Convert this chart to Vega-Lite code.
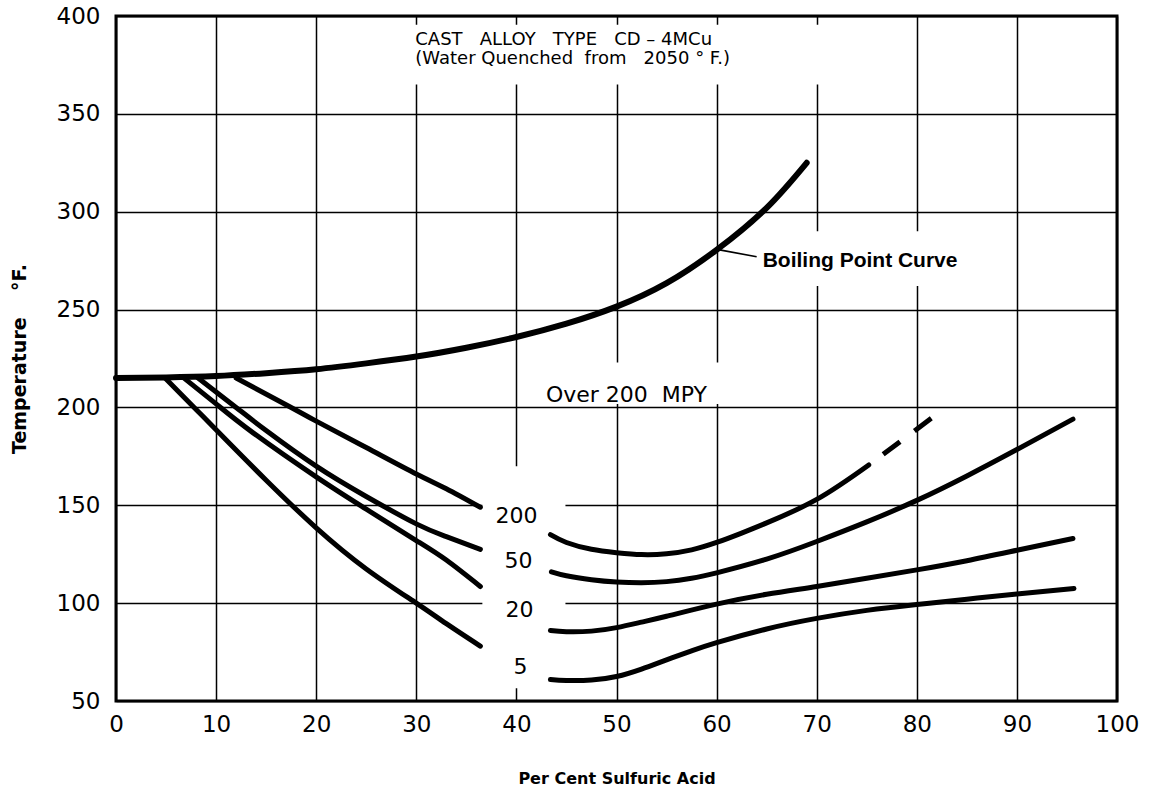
{
  "$schema": "https://vega.github.io/schema/vega-lite/v6.json",
  "width": 1001,
  "height": 685,
  "autosize": {"type": "none"},
  "padding": {"left": 116, "top": 16, "right": 33, "bottom": 94},
  "background": "white",
  "config": {
    "view": {"stroke": "black", "strokeWidth": 3},
    "axis": {
      "grid": true,
      "gridColor": "black",
      "gridWidth": 1.5,
      "gridOpacity": 1,
      "domain": false,
      "ticks": false,
      "labelFont": "DejaVu Sans",
      "labelFontSize": 23,
      "labelColor": "black",
      "labelFlush": false,
      "labelOverlap": false,
      "labelBound": false,
      "titleFont": "DejaVu Sans",
      "titleFontWeight": "bold",
      "titleColor": "black"
    }
  },
  "datasets": {
    "curves": [
      {"series": "boiling", "pct": 0, "temp": 215},
      {"series": "boiling", "pct": 5, "temp": 215.3},
      {"series": "boiling", "pct": 10, "temp": 216},
      {"series": "boiling", "pct": 15, "temp": 217.5},
      {"series": "boiling", "pct": 20, "temp": 219.5},
      {"series": "boiling", "pct": 25, "temp": 222.5},
      {"series": "boiling", "pct": 30, "temp": 226},
      {"series": "boiling", "pct": 35, "temp": 230.5},
      {"series": "boiling", "pct": 40, "temp": 236},
      {"series": "boiling", "pct": 45, "temp": 242.8},
      {"series": "boiling", "pct": 50, "temp": 251.5},
      {"series": "boiling", "pct": 55, "temp": 263.5},
      {"series": "boiling", "pct": 60, "temp": 280.5},
      {"series": "boiling", "pct": 65, "temp": 302},
      {"series": "boiling", "pct": 69, "temp": 325},

      {"series": "5 low", "pct": 4.9, "temp": 215},
      {"series": "5 low", "pct": 8, "temp": 199},
      {"series": "5 low", "pct": 10, "temp": 188.6},
      {"series": "5 low", "pct": 15, "temp": 162.8},
      {"series": "5 low", "pct": 20, "temp": 138.5},
      {"series": "5 low", "pct": 25, "temp": 117.5},
      {"series": "5 low", "pct": 30, "temp": 100},
      {"series": "5 low", "pct": 33, "temp": 89.5},
      {"series": "5 low", "pct": 36.4, "temp": 78},

      {"series": "20 low", "pct": 6.8, "temp": 215},
      {"series": "20 low", "pct": 10, "temp": 201.8},
      {"series": "20 low", "pct": 13.7, "temp": 187},
      {"series": "20 low", "pct": 20, "temp": 164.5},
      {"series": "20 low", "pct": 25, "temp": 148},
      {"series": "20 low", "pct": 30, "temp": 132},
      {"series": "20 low", "pct": 33, "temp": 122},
      {"series": "20 low", "pct": 36.4, "temp": 108.5},

      {"series": "50 low", "pct": 8.2, "temp": 215},
      {"series": "50 low", "pct": 12, "temp": 200},
      {"series": "50 low", "pct": 15.1, "temp": 187.8},
      {"series": "50 low", "pct": 20, "temp": 170},
      {"series": "50 low", "pct": 25, "temp": 154.5},
      {"series": "50 low", "pct": 30, "temp": 140.5},
      {"series": "50 low", "pct": 33, "temp": 134},
      {"series": "50 low", "pct": 36.4, "temp": 127.5},

      {"series": "200 low", "pct": 12, "temp": 215},
      {"series": "200 low", "pct": 17.5, "temp": 200},
      {"series": "200 low", "pct": 20, "temp": 193},
      {"series": "200 low", "pct": 25, "temp": 179.5},
      {"series": "200 low", "pct": 30, "temp": 166},
      {"series": "200 low", "pct": 33, "temp": 158.5},
      {"series": "200 low", "pct": 36.4, "temp": 149},

      {"series": "200 high", "pct": 43.4, "temp": 135},
      {"series": "200 high", "pct": 45, "temp": 131},
      {"series": "200 high", "pct": 47.5, "temp": 127.5},
      {"series": "200 high", "pct": 50, "temp": 125.8},
      {"series": "200 high", "pct": 52.5, "temp": 124.8},
      {"series": "200 high", "pct": 55, "temp": 125.2},
      {"series": "200 high", "pct": 57.5, "temp": 127.2},
      {"series": "200 high", "pct": 60, "temp": 131},
      {"series": "200 high", "pct": 62.5, "temp": 135.8},
      {"series": "200 high", "pct": 65, "temp": 141},
      {"series": "200 high", "pct": 70, "temp": 153},
      {"series": "200 high", "pct": 75.2, "temp": 170.6},

      {"series": "50 high", "pct": 43.5, "temp": 116},
      {"series": "50 high", "pct": 45, "temp": 114},
      {"series": "50 high", "pct": 47.5, "temp": 112},
      {"series": "50 high", "pct": 50, "temp": 110.8},
      {"series": "50 high", "pct": 52.5, "temp": 110.4},
      {"series": "50 high", "pct": 55, "temp": 111},
      {"series": "50 high", "pct": 57.5, "temp": 112.7},
      {"series": "50 high", "pct": 60, "temp": 115.5},
      {"series": "50 high", "pct": 65, "temp": 122.5},
      {"series": "50 high", "pct": 70, "temp": 131.5},
      {"series": "50 high", "pct": 75, "temp": 141.5},
      {"series": "50 high", "pct": 80, "temp": 152.5},
      {"series": "50 high", "pct": 85, "temp": 165},
      {"series": "50 high", "pct": 90, "temp": 178.5},
      {"series": "50 high", "pct": 95.6, "temp": 194},

      {"series": "20 high", "pct": 43.4, "temp": 86},
      {"series": "20 high", "pct": 45, "temp": 85.4},
      {"series": "20 high", "pct": 47.5, "temp": 85.7},
      {"series": "20 high", "pct": 50, "temp": 87.5},
      {"series": "20 high", "pct": 52.5, "temp": 90.3},
      {"series": "20 high", "pct": 55, "temp": 93.3},
      {"series": "20 high", "pct": 60, "temp": 99.5},
      {"series": "20 high", "pct": 65, "temp": 104.5},
      {"series": "20 high", "pct": 70, "temp": 108.5},
      {"series": "20 high", "pct": 75, "temp": 112.7},
      {"series": "20 high", "pct": 80, "temp": 117},
      {"series": "20 high", "pct": 85, "temp": 121.7},
      {"series": "20 high", "pct": 90, "temp": 127},
      {"series": "20 high", "pct": 95.6, "temp": 133},

      {"series": "5 high", "pct": 43.4, "temp": 61},
      {"series": "5 high", "pct": 45, "temp": 60.5},
      {"series": "5 high", "pct": 47.5, "temp": 60.7},
      {"series": "5 high", "pct": 50, "temp": 62.5},
      {"series": "5 high", "pct": 52.5, "temp": 66.3},
      {"series": "5 high", "pct": 55, "temp": 71},
      {"series": "5 high", "pct": 57.5, "temp": 75.6},
      {"series": "5 high", "pct": 60, "temp": 79.8},
      {"series": "5 high", "pct": 65, "temp": 86.8},
      {"series": "5 high", "pct": 70, "temp": 92.2},
      {"series": "5 high", "pct": 75, "temp": 96.3},
      {"series": "5 high", "pct": 80, "temp": 99.3},
      {"series": "5 high", "pct": 85, "temp": 102},
      {"series": "5 high", "pct": 90, "temp": 104.7},
      {"series": "5 high", "pct": 95.7, "temp": 107.5}
    ],
    "dashed": [
      {"series": "200 extrapolated", "pct": 75.2, "temp": 170.6},
      {"series": "200 extrapolated", "pct": 81.6, "temp": 195}
    ],
    "masks": [
      {"pct": 29.5, "pct2": 70.5, "temp": 365, "temp2": 395.5},
      {"pct": 45, "pct2": 62, "temp": 201.8, "temp2": 223},
      {"pct": 65, "pct2": 86, "temp": 262, "temp2": 290},
      {"pct": 36.6, "pct2": 44.9, "temp": 56.5, "temp2": 170}
    ],
    "leader": [
      {"pct": 60.3, "temp": 280.5, "pct2": 64.0, "temp2": 277}
    ],
    "labels": [
      {"kind": "title", "label": "CAST\u00a0\u00a0\u00a0ALLOY\u00a0\u00a0\u00a0TYPE\u00a0\u00a0\u00a0CD\u00a0–\u00a04MCu", "pct": 29.9, "temp": 385.2},
      {"kind": "title", "label": "(Water\u00a0Quenched\u00a0 from\u00a0\u00a0 2050\u00a0°\u00a0F.)", "pct": 29.9, "temp": 375.5},
      {"kind": "mpy", "label": "200", "pct": 40, "temp": 141},
      {"kind": "mpy", "label": "50", "pct": 40.2, "temp": 118},
      {"kind": "mpy", "label": "20", "pct": 40.3, "temp": 93},
      {"kind": "mpy", "label": "5", "pct": 40.4, "temp": 64},
      {"kind": "region", "label": "Over 200\u00a0 MPY", "pct": 51, "temp": 203},
      {"kind": "curve", "label": "Boiling Point Curve", "pct": 64.6, "temp": 272}
    ]
  },
  "encoding": {
    "x": {
      "field": "pct",
      "type": "quantitative",
      "scale": {"domain": [0, 100], "nice": false, "zero": false},
      "axis": {
        "title": "Per Cent Sulfuric Acid",
        "values": [0, 10, 20, 30, 40, 50, 60, 70, 80, 90, 100],
        "labelPadding": 12,
        "titleFontSize": 16,
        "titlePadding": 34
      }
    },
    "y": {
      "field": "temp",
      "type": "quantitative",
      "scale": {"domain": [50, 400], "nice": false, "zero": false},
      "axis": {
        "title": "Temperature\u00a0\u00a0\u00a0\u00a0°F.",
        "values": [50, 100, 150, 200, 250, 300, 350, 400],
        "labelPadding": 16,
        "titleFontSize": 19,
        "titlePadding": 27
      }
    }
  },
  "layer": [
    {
      "data": {"name": "masks"},
      "mark": {"type": "rect", "color": "white", "stroke": null},
      "encoding": {
        "x2": {"field": "pct2"},
        "y2": {"field": "temp2"}
      }
    },
    {
      "data": {"name": "curves"},
      "transform": [{"filter": "datum.series !== 'boiling'"}],
      "mark": {"type": "line", "color": "black", "strokeWidth": 5, "strokeCap": "round", "strokeJoin": "round", "interpolate": "natural"},
      "encoding": {
        "detail": {"field": "series", "type": "nominal"}
      }
    },
    {
      "data": {"name": "curves"},
      "transform": [{"filter": "datum.series === 'boiling'"}],
      "mark": {"type": "line", "color": "black", "strokeWidth": 6, "strokeCap": "round", "strokeJoin": "round", "interpolate": "natural"},
      "encoding": {
        "detail": {"field": "series", "type": "nominal"}
      }
    },
    {
      "data": {"name": "dashed"},
      "mark": {"type": "line", "color": "black", "strokeWidth": 5, "strokeCap": "butt", "strokeDash": [21, 18], "strokeDashOffset": 21},
      "encoding": {
        "detail": {"field": "series", "type": "nominal"}
      }
    },
    {
      "data": {"name": "leader"},
      "mark": {"type": "rule", "color": "black", "strokeWidth": 1.6},
      "encoding": {
        "x2": {"field": "pct2"},
        "y2": {"field": "temp2"}
      }
    },
    {
      "data": {"name": "labels"},
      "transform": [{"filter": "datum.kind === 'title'"}],
      "mark": {"type": "text", "align": "left", "baseline": "alphabetic", "font": "DejaVu Sans", "fontSize": 18, "color": "black"},
      "encoding": {"text": {"field": "label"}}
    },
    {
      "data": {"name": "labels"},
      "transform": [{"filter": "datum.kind === 'mpy' || datum.kind === 'region'"}],
      "mark": {"type": "text", "align": "center", "baseline": "alphabetic", "font": "DejaVu Sans", "fontSize": 22, "color": "black"},
      "encoding": {"text": {"field": "label"}}
    },
    {
      "data": {"name": "labels"},
      "transform": [{"filter": "datum.kind === 'curve'"}],
      "mark": {"type": "text", "align": "left", "baseline": "alphabetic", "font": "Liberation Sans", "fontWeight": "bold", "fontSize": 21, "color": "black"},
      "encoding": {"text": {"field": "label"}}
    }
  ]
}
